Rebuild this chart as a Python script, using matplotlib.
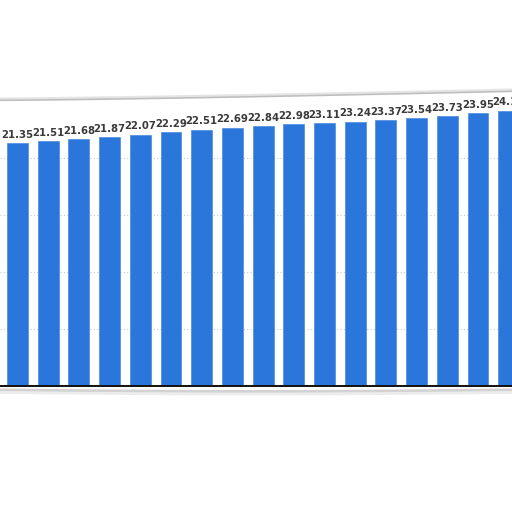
import matplotlib
matplotlib.use("Agg")
import matplotlib.pyplot as plt
from matplotlib.lines import Line2D
import numpy as np

values = [21.35, 21.51, 21.68, 21.87, 22.07, 22.29, 22.51, 22.69, 22.84,
          22.98, 23.11, 23.24, 23.37, 23.54, 23.73, 23.95, 24.19]
labels = ["21.35", "21.51", "21.68", "21.87", "22.07", "22.29", "22.51", "22.69",
          "22.84", "22.98", "23.11", "23.24", "23.37", "23.54", "23.73", "23.95", "24.19"]
gridlines = [5, 10, 15, 20]

W = 512.0
fig = plt.figure(figsize=(5.12, 5.12), dpi=100)
# axes: baseline at y=386 px from top, top at 100 px
ax = fig.add_axes([0, 1 - 386 / W, 1, (386 - 100) / W])

x = np.arange(len(values))
pitch = 30.7
ax.bar(x, values, width=0.68, color="#2a76db", edgecolor="#4a8ae0", linewidth=0.5, zorder=2)
for xi, v, lab in zip(x, values, labels):
    ax.text(xi, v + 0.3, lab, ha="center", va="bottom", fontsize=7.3,
            fontweight="bold", color="#3a3a3a", zorder=3)

for g in gridlines:
    ax.axhline(g, color="#c8c8c8", linewidth=0.8, linestyle=(0, (1, 2)), zorder=1)

ax.set_xlim(-17.5 / pitch, (W - 17.5) / pitch)
ax.set_ylim(0, 286 / 11.38)
for s in ["top", "left", "right"]:
    ax.spines[s].set_visible(False)
ax.spines["bottom"].set_color("#111111")
ax.spines["bottom"].set_linewidth(1.4)
ax.spines["bottom"].set_zorder(4)
ax.set_xticks([])
ax.set_yticks([])
ax.patch.set_alpha(0)

# paper-like border above and shadow below
tx = np.linspace(0, 1, 50)
ty = 1 - (100 - 9 * tx ** 1.3) / W
fig.add_artist(Line2D(tx, ty, color="#bdbdbd", linewidth=1.6))
fig.add_artist(Line2D(tx, ty + 1.5 / W, color="#e4e4e4", linewidth=1.5))
by = 1 - (390 + 1.5 * np.sin(np.pi * tx)) / W
fig.add_artist(Line2D(tx, by, color="#d2d2d2", linewidth=2.2))
fig.add_artist(Line2D(tx, by - 2.5 / W, color="#ececec", linewidth=2))

fig.savefig("out.png", dpi=100)
